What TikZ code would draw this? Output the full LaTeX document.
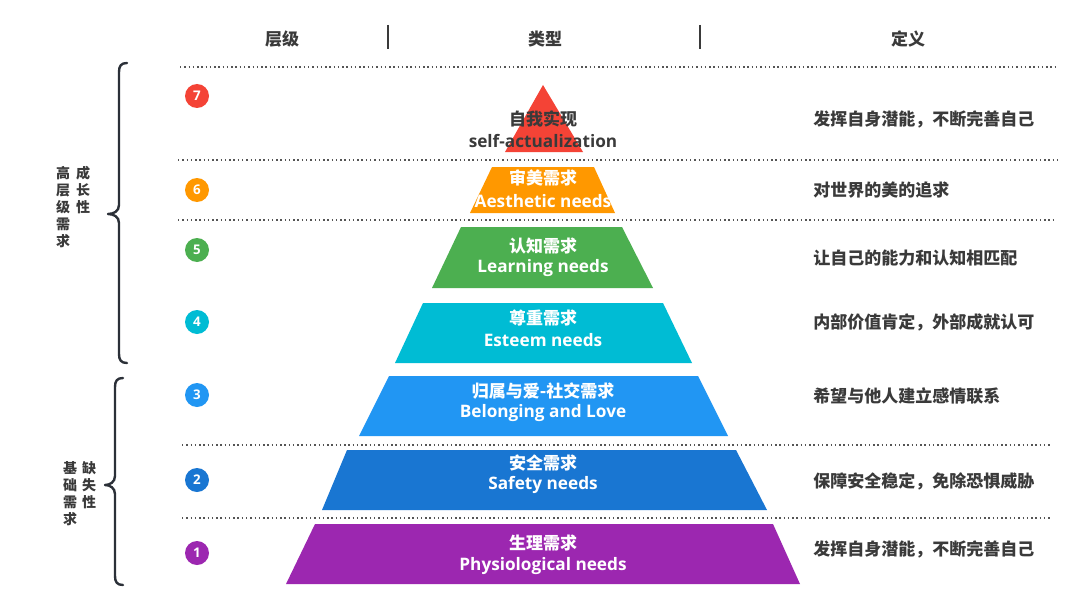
\documentclass[tikz,border=0pt]{standalone}
\usepackage{fontspec}
\newfontfamily\cjk{Noto Sans CJK SC}
\newfontfamily\lat{Open Sans}
\definecolor{cred}{HTML}{F44336}
\definecolor{corange}{HTML}{FF9800}
\definecolor{cgreen}{HTML}{4CAF50}
\definecolor{ccyan}{HTML}{00BCD4}
\definecolor{cblue}{HTML}{2196F3}
\definecolor{cdblue}{HTML}{1976D2}
\definecolor{cpurple}{HTML}{9C27B0}
\definecolor{txt}{HTML}{3A3A3A}
\definecolor{dotgray}{HTML}{555555}
\definecolor{bracec}{HTML}{2B3038}
\begin{document}
\begin{tikzpicture}[x=0.75pt,y=-0.75pt,
  hdr/.style={inner sep=0pt, text=txt, font=\cjk\bfseries\fontsize{12.75}{15}\selectfont},
  cn/.style={inner sep=0pt, text=white, font=\cjk\bfseries\fontsize{12.75}{15}\selectfont},
  en/.style={inner sep=0pt, text=white, font=\lat\bfseries\fontsize{12.9}{15}\selectfont},
  def/.style={inner sep=0pt, anchor=west, text=txt, font=\cjk\bfseries\fontsize{12.75}{15}\selectfont},
  num/.style={circle, inner sep=0pt, minimum size=18pt, text=white, font=\lat\bfseries\fontsize{10}{10}\selectfont},
  side/.style={inner sep=0pt, text=txt, align=center, font=\cjk\bfseries\fontsize{10.5}{12.75}\selectfont},
  dotline/.style={draw=dotgray, line width=1.1pt, dash pattern=on 1.1pt off 2.1pt},
  sep/.style={draw=txt, line width=1.1pt},
  bracel/.style={draw=bracec, line width=1.8pt, line cap=round, line join=round}
]
\useasboundingbox (0,0) rectangle (1080,606);
\fill[white] (0,0) rectangle (1080,606);

% headers
\node[hdr] (h1) at (282,39) {层级};
\node[hdr] (h2) at (545,39) {类型};
\node[hdr] (h3) at (908,39) {定义};
\coordinate (s1a) at (388,25); \coordinate (s1b) at (388,49);
\coordinate (s2a) at (700,25); \coordinate (s2b) at (700,49);
\draw[sep] (s1a) -- (s1b);
\draw[sep] (s2a) -- (s2b);

% dotted rules
\draw[dotline] (180,67) -- (1057,67);
\draw[dotline] (178,160) -- (1058,160);
\draw[dotline] (178,220) -- (1054,220);
\draw[dotline] (182,445) -- (1052,445);
\draw[dotline] (182,518) -- (1050,518);

% pyramid
\fill[cred] (543,85) -- (583,152) -- (505,152) -- cycle;
\fill[corange] (492,167) -- (594,167) -- (615,213) -- (470,213) -- cycle;
\fill[cgreen] (461,227) -- (622,227) -- (653,288) -- (432,288) -- cycle;
\fill[ccyan] (423,303) -- (663,303) -- (692,363) -- (395,363) -- cycle;
\fill[cblue] (389,376) -- (698,376) -- (728,436) -- (359,436) -- cycle;
\fill[cdblue] (347,450) -- (736,450) -- (767,510) -- (322,510) -- cycle;
\fill[cpurple] (315,524) -- (773,524) -- (800,584) -- (286,584) -- cycle;

% pyramid labels
\node[cn, text=txt] (t7a) at (543,119) {自我实现};
\node[en, text=txt] (t7b) at (543,141) {self-actualization};
\node[cn] (t6a) at (543,178) {审美需求};
\node[en] (t6b) at (543,201) {Aesthetic needs};
\node[cn] (t5a) at (543,246) {认知需求};
\node[en] (t5b) at (543,268) {Learning needs};
\node[cn] (t4a) at (543,318) {尊重需求};
\node[en] (t4b) at (543,340) {Esteem needs};
\node[cn] (t3a) at (543,391) {归属与爱-社交需求};
\node[en] (t3b) at (543,413) {Belonging and Love};
\node[cn] (t2a) at (543,463) {安全需求};
\node[en] (t2b) at (543,485) {Safety needs};
\node[cn] (t1a) at (543,543) {生理需求};
\node[en] (t1b) at (543,566) {Physiological needs};

% level numbers
\node[num, fill=cred] (n7) at (197,96) {7};
\node[num, fill=corange] (n6) at (197,190) {6};
\node[num, fill=cgreen] (n5) at (197,250) {5};
\node[num, fill=ccyan] (n4) at (197,322) {4};
\node[num, fill=cblue] (n3) at (197,395) {3};
\node[num, fill=cdblue] (n2) at (197,480) {2};
\node[num, fill=cpurple] (n1) at (197,553) {1};

% definitions
\node[def] (d7) at (813,119) {发挥自身潜能，不断完善自己};
\node[def] (d6) at (813,190) {对世界的美的追求};
\node[def] (d5) at (813,258) {让自己的能力和认知相匹配};
\node[def] (d4) at (813,322) {内部价值肯定，外部成就认可};
\node[def] (d3) at (813,396) {希望与他人建立感情联系};
\node[def] (d2) at (813,481) {保障安全稳定，免除恐惧威胁};
\node[def] (d1) at (813,549) {发挥自身潜能，不断完善自己};

% braces
\draw[bracel] (127,63) .. controls (121,63) and (119,66) .. (119,72) -- (119,205)
  .. controls (119,211) and (114,214) .. (108,214)
  .. controls (114,214) and (119,217) .. (119,223) -- (119,354)
  .. controls (119,360) and (121,363) .. (127,363);
\draw[bracel] (123,378) .. controls (117,378) and (115,381) .. (115,387) -- (115,476)
  .. controls (115,482) and (110,485) .. (105,485)
  .. controls (110,485) and (115,488) .. (115,494) -- (115,576)
  .. controls (115,582) and (117,585) .. (123,585);

\node[side] (g1) at (63,207.5) {高\\层\\级\\需\\求};
\node[side] (g2) at (83,190.5) {成\\长\\性};
\node[side] (g3) at (70,494) {基\\础\\需\\求};
\node[side] (g4) at (89,485) {缺\\失\\性};
\end{tikzpicture}
\end{document}
